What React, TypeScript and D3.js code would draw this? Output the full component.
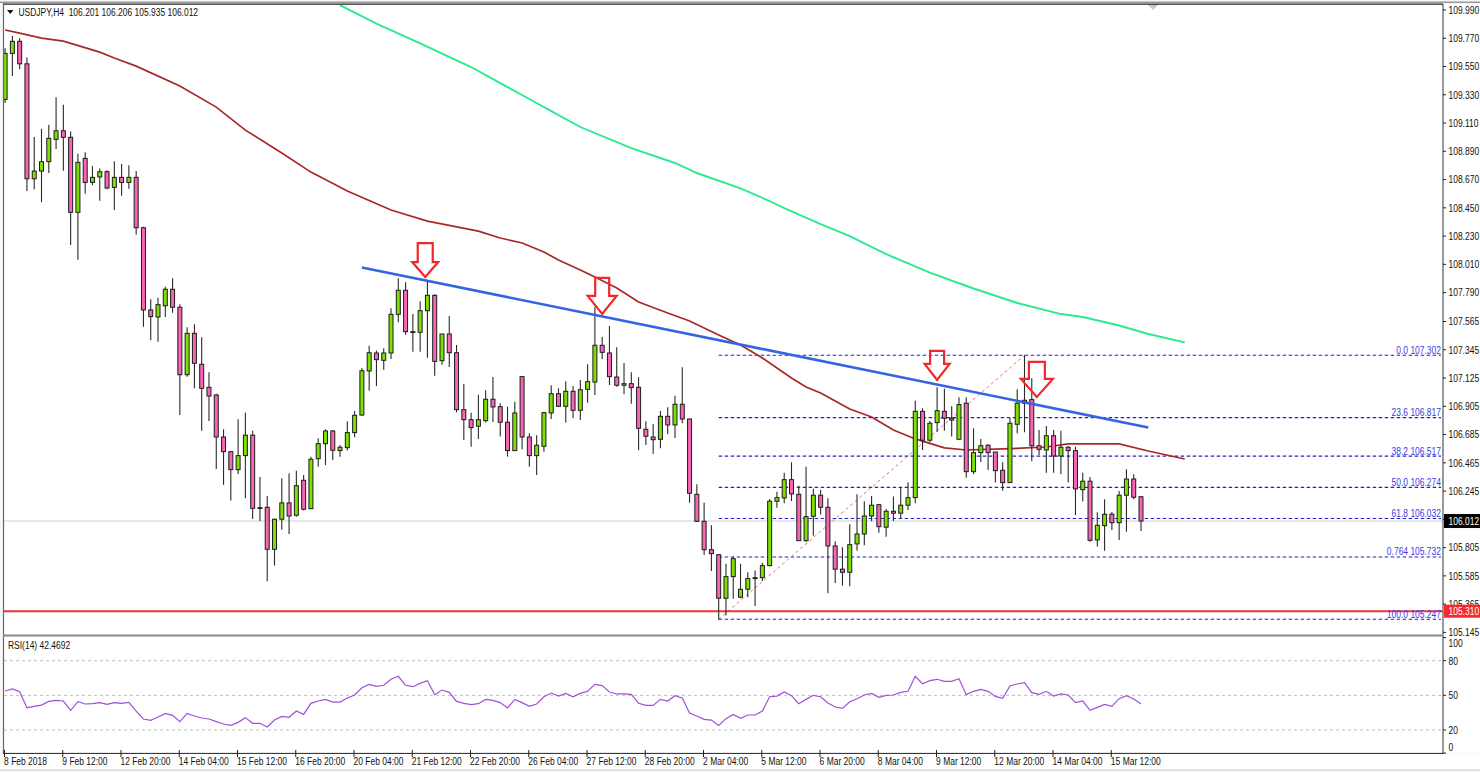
import React from "react";
import * as d3 from "d3";

const opens = [109.294,109.652,109.746,109.571,108.676,108.736,108.809,108.983,109.050,108.999,108.415,108.835,108.648,108.690,108.731,108.609,108.687,108.648,108.687,108.295,107.655,107.600,107.688,107.816,107.676,107.151,107.473,107.232,107.053,106.993,106.666,106.552,106.412,106.521,106.680,106.111,106.119,105.792,106.026,106.153,106.057,106.329,106.108,106.497,106.614,106.713,106.560,106.583,106.700,106.837,107.180,107.320,107.263,107.320,107.621,107.808,107.486,107.481,107.649,107.769,107.260,107.468,107.322,106.879,106.801,106.750,106.793,106.960,106.902,106.781,106.560,107.136,106.666,106.521,106.594,106.853,107.003,106.905,107.022,106.874,107.037,107.094,107.380,107.320,107.133,107.069,107.081,107.053,106.726,106.666,106.648,106.827,106.760,106.921,106.806,106.220,106.010,105.789,105.750,105.411,105.579,105.419,105.481,105.564,105.571,105.665,106.166,106.192,106.334,106.220,105.859,106.049,106.213,106.119,105.818,105.637,105.613,105.834,105.911,106.051,106.139,105.964,106.088,106.073,106.135,106.194,106.866,106.641,106.778,106.866,106.812,106.648,106.929,106.396,106.544,106.602,106.549,106.407,106.311,106.765,106.929,106.957,106.598,106.565,106.676,106.518,106.586,106.560,106.256,106.322,105.865,105.976,106.065,105.999,106.213,106.339,106.201];
const highs = [109.693,109.787,109.769,109.621,109.001,109.065,109.097,109.310,109.252,109.045,108.871,108.882,108.775,108.757,108.742,108.812,108.791,108.781,108.736,108.303,107.738,107.750,107.836,107.901,107.699,107.520,107.543,107.442,107.170,107.003,106.726,106.552,106.804,106.855,106.715,106.355,106.207,106.031,106.345,106.384,106.404,106.371,106.513,106.656,106.726,106.721,106.604,106.788,106.869,107.201,107.377,107.338,107.357,107.668,107.901,107.870,107.623,107.722,107.888,107.777,107.468,107.608,107.382,107.079,106.855,106.995,107.030,107.133,106.929,106.902,106.941,107.139,106.695,106.680,106.863,107.069,107.045,107.100,107.063,107.110,107.232,107.680,107.444,107.530,107.364,107.242,107.170,107.131,106.788,106.767,106.869,106.897,106.988,107.209,106.809,106.298,106.155,105.979,105.756,105.680,105.738,105.680,105.613,105.626,105.688,106.184,106.240,106.388,106.469,106.287,106.435,106.264,106.254,106.189,105.855,105.808,105.987,106.220,106.166,106.207,106.145,106.106,106.202,106.272,106.314,106.949,106.890,106.791,107.053,107.042,106.905,106.975,106.975,106.734,106.651,106.609,106.549,106.469,106.814,107.038,107.302,107.123,106.721,106.752,106.721,106.715,106.596,106.591,106.388,106.355,106.080,106.181,106.083,106.246,106.415,106.376,106.206];
const lows = [109.265,109.476,109.528,108.581,108.594,108.493,108.721,108.907,108.739,108.160,108.046,108.560,108.627,108.505,108.594,108.433,108.544,108.599,108.241,107.525,107.419,107.408,107.600,107.634,106.837,107.136,107.045,106.715,106.791,106.417,106.293,106.171,106.378,106.189,106.028,106.013,105.543,105.665,105.945,105.911,106.046,106.093,106.106,106.435,106.448,106.487,106.513,106.560,106.664,106.832,107.027,107.063,107.190,107.273,107.559,107.462,107.330,107.330,107.283,107.143,107.229,107.211,106.858,106.643,106.591,106.651,106.778,106.783,106.669,106.513,106.560,106.570,106.435,106.371,106.552,106.806,106.900,106.778,106.812,106.798,106.933,106.993,107.271,107.071,107.058,106.999,106.925,106.563,106.604,106.536,106.578,106.690,106.658,106.773,106.155,106.005,105.748,105.623,105.245,105.276,105.406,105.411,105.419,105.351,105.546,105.660,106.116,106.150,106.168,105.857,105.851,105.898,106.062,105.450,105.530,105.509,105.504,105.781,105.823,106.010,105.921,105.890,106.013,106.034,106.098,106.150,106.565,106.625,106.705,106.715,106.669,106.648,106.349,106.376,106.472,106.409,106.311,106.248,106.311,106.695,106.703,106.477,106.526,106.388,106.388,106.376,106.311,106.059,106.163,105.851,105.813,105.781,105.943,105.865,105.929,106.181,105.935];
const closes = [109.652,109.746,109.571,108.676,108.736,108.809,108.991,109.050,108.999,108.415,108.804,108.648,108.687,108.731,108.604,108.687,108.648,108.687,108.295,107.655,107.603,107.696,107.816,107.676,107.151,107.473,107.240,107.045,106.985,106.666,106.552,106.412,106.521,106.680,106.111,106.116,105.792,106.026,106.153,106.051,106.287,106.104,106.493,106.614,106.713,106.563,106.586,106.700,106.835,107.182,107.322,107.268,107.320,107.621,107.808,107.486,107.481,107.649,107.769,107.255,107.468,107.322,106.879,106.801,106.739,106.801,106.960,106.900,106.781,106.560,106.853,106.666,106.521,106.602,106.855,107.003,106.905,107.022,106.874,107.034,107.097,107.380,107.325,107.136,107.069,107.081,107.050,106.734,106.672,106.645,106.827,106.760,106.921,106.806,106.228,106.010,105.789,105.758,105.411,105.579,105.719,105.481,105.564,105.571,105.665,106.166,106.194,106.334,106.223,105.859,106.046,106.213,106.119,105.818,105.637,105.613,105.828,105.911,106.051,106.135,105.968,106.088,106.073,106.135,106.194,106.866,106.641,106.773,106.871,106.812,106.798,106.918,106.396,106.544,106.598,106.544,106.404,106.311,106.773,106.929,106.952,106.598,106.570,106.676,106.518,106.586,106.560,106.262,106.322,105.862,105.979,106.065,105.999,106.213,106.339,106.197,106.012];

const rsiValues = [53.8,55.5,53.2,39.3,40.5,41.6,44.8,45.7,45.1,37.0,44.5,42.5,42.8,43.7,42.2,43.7,43.1,43.9,36.4,29.5,28.4,31.2,34.4,32.7,27.2,34.4,32.1,30.4,29.5,27.2,25.2,24.0,26.6,30.7,25.8,25.8,22.6,28.6,31.8,31.0,36.4,33.5,43.1,45.1,46.5,44.2,44.2,47.7,50.3,56.6,59.5,57.8,58.7,63.9,66.5,58.7,57.5,60.4,62.7,50.6,54.6,52.6,44.8,43.1,41.9,42.8,46.5,45.7,43.7,39.0,46.5,43.7,40.5,42.5,48.8,52.0,49.4,51.7,48.8,51.7,53.5,59.5,58.4,52.9,51.2,51.2,50.9,43.1,41.3,41.3,46.5,45.1,49.7,47.7,34.7,32.1,29.2,28.6,24.0,29.8,33.5,30.1,33.0,33.0,36.4,48.8,49.4,52.9,49.7,42.8,46.5,50.0,48.8,43.4,39.9,38.7,44.5,47.1,50.3,51.7,48.3,50.0,50.3,52.6,53.5,66.5,60.1,62.7,63.9,62.1,62.1,64.4,50.6,53.5,55.2,53.5,49.1,47.4,58.1,59.8,61.0,52.3,50.9,53.5,49.4,51.2,50.3,43.7,45.1,37.0,39.6,42.2,40.5,47.1,49.7,46.8,42.47];

const redMaBars = [0,2,5,8,13,15,18,24,29,33,38,42,47,53,58,65,68,71,74,76,79,81,84,87,91,94,98,101,104,108,110,112,116,119,122,125,129,132,137,143,146,153,157,162];
const redMaValues = [109.834,109.810,109.771,109.748,109.662,109.616,109.553,109.398,109.234,109.055,108.876,108.728,108.581,108.433,108.347,108.269,108.215,108.176,108.106,108.044,107.966,107.911,107.826,107.717,107.631,107.569,107.460,107.382,107.281,107.125,107.055,107.009,106.884,106.822,106.720,106.651,106.581,106.565,106.573,106.588,106.612,106.612,106.557,106.495];
const greenMaBars = [46,51,57,64,68,72,75,79,86,92,95,101,105,107,112,116,121,127,133,139,145,148,153,157,162];
const greenMaValues = [110.028,109.884,109.730,109.546,109.421,109.297,109.203,109.079,108.915,108.799,108.721,108.602,108.503,108.448,108.324,108.230,108.090,107.945,107.822,107.709,107.623,107.600,107.534,107.468,107.403];

const trendBars = [49,157];
const trendValues = [107.985,106.740];
const fibBars = [98,140];
const fibLineValues = [105.247,107.302];

const fibLevels = ["0.0","23.6","38.2","50.0","61.8","0.764","100.0"];
const fibPrices = [107.302,106.817,106.517,106.274,106.032,105.732,105.247];

const priceTicks = [109.99,109.77,109.55,109.33,109.11,108.89,108.67,108.45,108.23,108.01,107.79,107.565,107.345,107.125,106.905,106.685,106.465,106.245,106.025,105.805,105.585,105.365,105.145];
const rsiTicks = [100,80,50,20,0];
const rsiLevels = [80,50,20];
const dateLabels = ["8 Feb 2018","9 Feb 12:00","12 Feb 20:00","14 Feb 04:00","15 Feb 12:00","16 Feb 20:00","20 Feb 04:00","21 Feb 12:00","22 Feb 20:00","26 Feb 04:00","27 Feb 12:00","28 Feb 20:00","2 Mar 04:00","5 Mar 12:00","6 Mar 20:00","8 Mar 04:00","9 Mar 12:00","12 Mar 20:00","14 Mar 04:00","15 Mar 12:00"];

const arrowBars = [57.7,82,128,141.7];
const arrowPrices = [107.911,107.624,107.110,106.978];
const arrowHalfHead = [13,14.5,12.5,16];
const arrowHalfShaft = [7.5,7,7,8];
const arrowHeadLen = [15,18,16,18];
const arrowTotal = [34,36,29,35];

const headerText = "USDJPY,H4  106.201 106.206 105.935 106.012";
const rsiText = "RSI(14) 42.4692";
const currentPrice = 106.012;
const supportPrice = 105.31;

const W = 1480, H = 772;
const AXIS_X = 1443, LEFT = 4;
const X_SQUEEZE = 0.8;

const x = d3.scaleLinear().domain([0, 156]).range([5.1, 1141]);
const y = d3.scaleLinear().domain([105.247, 107.302]).range([619.3, 355.3]);
const r = d3.scaleLinear().domain([0, 100]).range([753.1, 637.6]);

const pairLine = (bars: number[], vals: number[]) =>
  d3.line<number>().x((b) => x(b)).y((_, i) => y(vals[i]))(bars) as string;
const rsiLine = d3.line<number>().x((_, i) => x(i)).y((v) => r(v));

function T({ x: tx, y: ty, fill = "#111", anchor = "start", children }: any) {
  return (
    <text transform={`translate(${tx},${ty}) scale(${X_SQUEEZE},1)`} fill={fill} textAnchor={anchor} xmlSpace="preserve">
      {children}
    </text>
  );
}

export default function App() {
  return (
    <svg width={W} height={H} style={{ position: "fixed", left: 0, top: 0, background: "#f4f4f4" }}
      fontFamily="'Liberation Sans', Arial, sans-serif" fontSize={10.6}>
      <defs>
        <clipPath id="main"><rect x={LEFT} y={4} width={AXIS_X - LEFT} height={631} /></clipPath>
      </defs>
      <rect x={0} y={0} width={W} height={H} fill="#f7f7f7" />
      <rect x={LEFT} y={4} width={AXIS_X - LEFT} height={631} fill="#fff" />
      <rect x={LEFT} y={637} width={AXIS_X - LEFT} height={116} fill="#fff" />
      <rect x={AXIS_X} y={4} width={37} height={749} fill="#fff" />
      <rect x={0} y={754} width={W} height={15} fill="#fff" />

      <g clipPath="url(#main)">
        <line x1={LEFT} x2={AXIS_X} y1={y(currentPrice)} y2={y(currentPrice)} stroke="#cfcfcf" strokeWidth={1.2} />
        {fibPrices.map((p) => (
          <line key={p} x1={x(98)} x2={AXIS_X - 2} y1={y(p)} y2={y(p)} stroke="#2020d0" strokeWidth={1.1} strokeDasharray="3.5,2.5" />
        ))}
        <path d={pairLine(fibBars, fibLineValues)} stroke="#e87070" strokeWidth={1} strokeDasharray="3,3" fill="none" />
        <line x1={LEFT} x2={AXIS_X} y1={y(supportPrice)} y2={y(supportPrice)} stroke="#f03434" strokeWidth={2} />
        <path d={pairLine(redMaBars, redMaValues)} stroke="#a82828" strokeWidth={1.7} fill="none" />
        <path d={pairLine(greenMaBars, greenMaValues)} stroke="#2aea90" strokeWidth={1.9} fill="none" />

        {opens.map((o, i) => {
          const up = closes[i] >= o;
          const top = y(Math.max(o, closes[i]));
          const bot = y(Math.min(o, closes[i]));
          return (
            <g key={i}>
              <line x1={x(i)} x2={x(i)} y1={y(highs[i])} y2={y(lows[i])} stroke="#2a2a2a" strokeWidth={1.1} />
              <rect x={x(i) - 2} y={top} width={4} height={Math.max(bot - top, 0.8)}
                fill={up ? "#7ee000" : "#f765b4"} stroke="#1c1c1c" strokeWidth={1} />
            </g>
          );
        })}

        <path d={pairLine(trendBars, trendValues)} stroke="#3564e2" strokeWidth={2.6} fill="none" />

        {arrowBars.map((b, i) => {
          const tx = x(b), ty = y(arrowPrices[i]);
          const hh = arrowHalfHead[i], hs = arrowHalfShaft[i], hl = arrowHeadLen[i], tot = arrowTotal[i];
          const pts: [number, number][] = [
            [tx, ty], [tx - hh, ty - hl], [tx - hs, ty - hl], [tx - hs, ty - tot],
            [tx + hs, ty - tot], [tx + hs, ty - hl], [tx + hh, ty - hl],
          ];
          return <path key={i} d={d3.line()(pts) + "Z"} fill="none" stroke="#f0282c" strokeWidth={2.2} />;
        })}
      </g>

      <path d="M1147,4 L1159,4 L1153,10 Z" fill="#c8c8c8" />
      <path d="M7,10 L13.5,10 L10.2,14 Z" fill="#111" />
      <T x={18.5} y={15.5}>{headerText}</T>

      {fibLevels.map((l, i) => (
        <T key={l} x={AXIS_X - 2} y={y(fibPrices[i]) - 1.5} anchor="end" fill="#3c3ce4">{l + " " + fibPrices[i].toFixed(3)}</T>
      ))}

      {/* frame */}
      <line x1={0} x2={W} y1={2.2} y2={2.2} stroke="#9a9a9a" strokeWidth={1.6} />
      <line x1={LEFT} x2={AXIS_X} y1={4.2} y2={4.2} stroke="#222" strokeWidth={1.2} />
      <line x1={3.5} x2={3.5} y1={3} y2={754} stroke="#666" strokeWidth={1.2} />
      <line x1={AXIS_X} x2={AXIS_X} y1={4} y2={754} stroke="#555" strokeWidth={1.2} />
      <line x1={3} x2={AXIS_X} y1={635.6} y2={635.6} stroke="#8c8c8c" strokeWidth={2} />
      <line x1={3} x2={AXIS_X} y1={753.4} y2={753.4} stroke="#222" strokeWidth={1} />
      <line x1={0} x2={W} y1={770} y2={770} stroke="#cfcfcf" strokeWidth={1} />

      {/* price axis */}
      {priceTicks.map((t) => (
        <g key={t}>
          <line x1={AXIS_X} x2={AXIS_X + 3} y1={y(t)} y2={y(t)} stroke="#222" />
          <T x={1448.5} y={y(t) + 3.8}>{t.toFixed(3)}</T>
        </g>
      ))}
      <rect x={1444} y={y(currentPrice) - 7} width={36} height={14} fill="#000" />
      <T x={1448.5} y={y(currentPrice) + 3.8} fill="#fff">{currentPrice.toFixed(3)}</T>
      <rect x={1444} y={y(supportPrice) - 6.5} width={36} height={13} fill="#f42a2a" />
      <T x={1448.5} y={y(supportPrice) + 3.8} fill="#fff">{supportPrice.toFixed(3)}</T>

      {/* RSI pane */}
      {rsiLevels.map((l) => (
        <line key={l} x1={LEFT} x2={AXIS_X} y1={r(l)} y2={r(l)} stroke="#bdbdbd" strokeWidth={1} strokeDasharray="3,3" />
      ))}
      <path d={rsiLine(rsiValues) as string} stroke="#a24fd8" strokeWidth={1.2} fill="none" />
      <T x={8} y={648.5}>{rsiText}</T>
      {rsiTicks.map((t) => (
        <g key={t}>
          <line x1={AXIS_X} x2={AXIS_X + 3} y1={r(t)} y2={r(t)} stroke="#222" />
          <T x={1448.5} y={Math.min(Math.max(r(t), 643), 747) + 3.8}>{t}</T>
        </g>
      ))}

      {/* time axis */}
      {dateLabels.map((d, i) => (
        <g key={d}>
          <line x1={x(i * 8) - 0.6} x2={x(i * 8) - 0.6} y1={750} y2={757} stroke="#222" />
          <T x={x(i * 8) - 1} y={765}>{d}</T>
        </g>
      ))}
    </svg>
  );
}
